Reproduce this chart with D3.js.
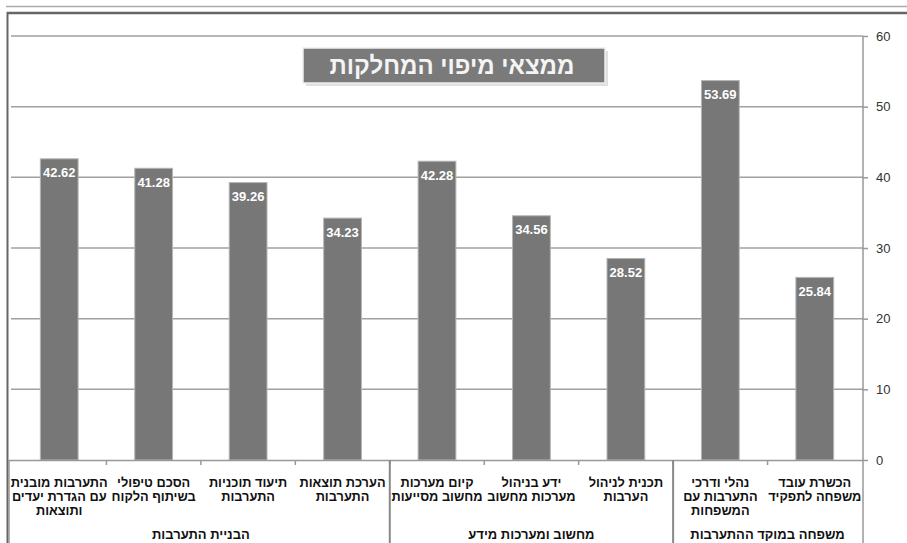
<!DOCTYPE html>
<html><head><meta charset="utf-8">
<script src="https://cdn.jsdelivr.net/npm/d3@7"></script>
<style>
html,body{margin:0;padding:0;background:#fff;}
svg{display:block;font-family:"Liberation Sans",Arial,"DejaVu Sans",sans-serif;}
</style></head>
<body>
<svg id="chart" width="907" height="543"></svg>
<script>
const title = "ממצאי מיפוי המחלקות";
const categories = [
  ["התערבות מובנית","עם הגדרת יעדים","ותוצאות"],
  ["הסכם טיפולי","בשיתוף הלקוח"],
  ["תיעוד תוכניות","התערבות"],
  ["הערכת תוצאות","התערבות"],
  ["קיום מערכות","מחשוב מסייעות"],
  ["ידע בניהול","מערכות מחשוב"],
  ["תכנית לניהול","הערבות"],
  ["נהלי ודרכי","התערבות עם","המשפחות"],
  ["הכשרת עובד","משפחה לתפקיד"]
];
const values = [42.62, 41.28, 39.26, 34.23, 42.28, 34.56, 28.52, 53.69, 25.84];
const groups = ["הבניית התערבות", "מחשוב ומערכות מידע", "משפחה במוקד ההתערבות"];
const groupSizes = [4, 3, 2];
const yTicks = [0, 10, 20, 30, 40, 50, 60];

const svg = d3.select("#chart");
const x = d3.scaleBand().domain(d3.range(values.length)).range([12, 862]).paddingInner(0.6).paddingOuter(0.3);
const y = d3.scaleLinear().domain([0, 60]).range([460, 36]);
const axisX = 863;

// top frame lines
svg.append("line").attr("x1",6).attr("x2",907).attr("y1",6.5).attr("y2",6.5).attr("stroke","#aaa").attr("stroke-width",1.5);
svg.append("line").attr("x1",7).attr("x2",907).attr("y1",13).attr("y2",13).attr("stroke","#666").attr("stroke-width",2.5);
svg.append("line").attr("x1",7.5).attr("x2",7.5).attr("y1",12).attr("y2",543).attr("stroke","#666").attr("stroke-width",2);

// gridlines
svg.append("g").selectAll("line").data(yTicks.filter(d=>d>0)).join("line")
  .attr("x1",11).attr("x2",axisX).attr("y1",d=>y(d)).attr("y2",d=>y(d))
  .attr("stroke","#a0a0a0").attr("stroke-width",1.5);

// y axis on right
const yAxis = d3.axisRight(y).tickValues(yTicks).tickSize(5).tickPadding(8).tickFormat(d3.format("d"));
const ya = svg.append("g").attr("transform",`translate(${axisX},0)`).call(yAxis);
ya.select(".domain").remove();
ya.selectAll(".tick line").attr("stroke","#999").attr("stroke-width",1.5);
ya.selectAll(".tick text").attr("font-size",13).attr("fill","#333").attr("font-family","Liberation Sans, Arial, sans-serif");
svg.append("line").attr("x1",axisX).attr("x2",axisX).attr("y1",36).attr("y2",543).attr("stroke","#999").attr("stroke-width",1.5);

// bars
svg.append("g").selectAll("rect").data(values).join("rect")
  .attr("x",(d,i)=>x(i)).attr("width",x.bandwidth())
  .attr("y",d=>y(d)).attr("height",d=>y(0)-y(d))
  .attr("fill","#777").attr("stroke","#b5b5b5").attr("stroke-width",1);

// value labels
svg.append("g").selectAll("text").data(values).join("text")
  .attr("x",(d,i)=>x(i)+x.bandwidth()/2).attr("y",d=>y(d)+18.5)
  .attr("text-anchor","middle").attr("fill","#fff").attr("font-weight","bold").attr("font-size",13)
  .text(d=>d.toFixed(2));

// category table
const tb = svg.append("g");
tb.append("line").attr("x1",9).attr("x2",axisX).attr("y1",460.5).attr("y2",460.5).attr("stroke","#999").attr("stroke-width",1.5);
tb.append("line").attr("x1",9).attr("x2",9).attr("y1",460).attr("y2",543).attr("stroke","#999").attr("stroke-width",1.5);
const step = x.step();
const x0 = 12;
tb.selectAll("line.tk").data(d3.range(1, values.length)).join("line").attr("class","tk")
  .attr("x1",i=>x0+i*step).attr("x2",i=>x0+i*step).attr("y1",460).attr("y2",465)
  .attr("stroke","#999").attr("stroke-width",1.5);
let cum = 0;
const seps = [];
groupSizes.forEach((s,gi)=>{ cum += s; if (gi < groupSizes.length-1) seps.push(cum); });
tb.selectAll("line.sep").data(seps).join("line").attr("class","sep")
  .attr("x1",i=>x0+i*step).attr("x2",i=>x0+i*step).attr("y1",460).attr("y2",543)
  .attr("stroke","#888").attr("stroke-width",2);

const cl = tb.selectAll("text.cat").data(categories).join("text").attr("class","cat")
  .attr("text-anchor","middle").attr("font-weight","bold").attr("font-size",12.8).attr("fill","#111")
  .attr("direction","rtl");
cl.each(function(lines,i){
  const t = d3.select(this);
  lines.forEach((ln,j)=>{
    t.append("tspan").attr("x",x(i)+x.bandwidth()/2).attr("y",487+j*13.8).text(ln);
  });
});

let start = 0;
groups.forEach((g,gi)=>{
  const s = groupSizes[gi];
  const cx = x0 + (start + s/2)*step;
  tb.append("text").attr("x",cx).attr("y",539).attr("text-anchor","middle")
    .attr("font-weight","bold").attr("font-size",13).attr("fill","#111").attr("direction","rtl").text(g);
  start += s;
});

// title box
const tg = svg.append("g");
tg.append("rect").attr("x",306).attr("y",51).attr("width",302).attr("height",35).attr("fill","#ccc").attr("opacity",0.6);
tg.append("rect").attr("x",303).attr("y",48).attr("width",302).attr("height",35).attr("fill","#7a7a7a").attr("stroke","#eee").attr("stroke-width",1.5);
tg.append("text").attr("x",452).attr("y",74).attr("text-anchor","middle").attr("fill","#f4f4f4")
  .attr("font-weight","bold").attr("font-size",24).attr("direction","rtl").text(title);
</script>
</body></html>
